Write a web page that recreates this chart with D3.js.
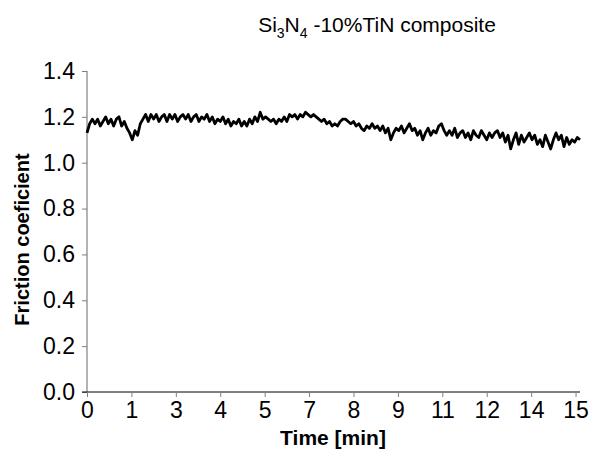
<!DOCTYPE html>
<html>
<head>
<meta charset="utf-8">
<script src="https://cdn.jsdelivr.net/npm/d3@7"></script>
<style>
  body { margin: 0; background: #fff; }
  text { font-family: Arial, "Liberation Sans", sans-serif; fill: #000; }
</style>
</head>
<body>
<svg id="chart" width="596" height="450"></svg>
<script>
// x axis is a category-style axis: evenly spaced ticks with these labels
const tickLabels = ['0', '1', '3', '4', '5', '7', '8', '9', '11', '12', '14', '15'];
const yTicks = [0, 0.2, 0.4, 0.6, 0.8, 1.0, 1.2, 1.4];

// friction coefficient, sampled every 0.06 tick-step along the x axis
const step = 0.06;
const friction = [
  1.13, 1.17, 1.19, 1.17, 1.19, 1.16, 1.18, 1.20, 1.17, 1.19, 1.16, 1.19, 1.20, 1.16, 1.18, 1.15, 1.13,
  1.10, 1.14, 1.12, 1.17, 1.19, 1.21, 1.18, 1.21, 1.19, 1.21, 1.18, 1.20, 1.21, 1.18, 1.21, 1.19, 1.21,
  1.18, 1.20, 1.21, 1.19, 1.21, 1.18, 1.20, 1.21, 1.18, 1.20, 1.19, 1.21, 1.18, 1.20, 1.17, 1.19, 1.18,
  1.20, 1.17, 1.19, 1.16, 1.18, 1.17, 1.19, 1.16, 1.18, 1.16, 1.19, 1.17, 1.20, 1.18, 1.22, 1.19, 1.20,
  1.19, 1.18, 1.19, 1.17, 1.19, 1.18, 1.20, 1.18, 1.21, 1.20, 1.21, 1.19, 1.21, 1.20, 1.22, 1.21, 1.20,
  1.21, 1.20, 1.19, 1.18, 1.19, 1.17, 1.18, 1.16, 1.17, 1.16, 1.18, 1.19, 1.19, 1.18, 1.17, 1.18, 1.16,
  1.17, 1.15, 1.14, 1.16, 1.15, 1.17, 1.15, 1.16, 1.14, 1.16, 1.13, 1.15, 1.10, 1.13, 1.15, 1.14, 1.16,
  1.13, 1.15, 1.17, 1.14, 1.15, 1.12, 1.14, 1.10, 1.13, 1.15, 1.12, 1.14, 1.13, 1.16, 1.17, 1.14, 1.12,
  1.14, 1.12, 1.15, 1.11, 1.13, 1.14, 1.11, 1.13, 1.10, 1.14, 1.12, 1.11, 1.14, 1.12, 1.10, 1.13, 1.11,
  1.13, 1.14, 1.11, 1.13, 1.09, 1.12, 1.06, 1.10, 1.13, 1.08, 1.12, 1.09, 1.11, 1.13, 1.10, 1.12, 1.08,
  1.10, 1.07, 1.12, 1.09, 1.06, 1.10, 1.13, 1.10, 1.12, 1.07, 1.11, 1.08, 1.10, 1.09, 1.11, 1.10
];

const svg = d3.select('#chart');
const plotLeft = 87, plotRight = 580, plotTop = 71, plotBottom = 392;

const x = d3.scaleLinear().domain([0, 11.1]).range([plotLeft, plotRight]);
const y = d3.scaleLinear().domain([0, 1.4]).range([plotBottom, plotTop]);

// y axis
const yAxis = svg.append('g')
  .attr('transform', `translate(${plotLeft},0)`)
  .call(d3.axisLeft(y).tickValues(yTicks).tickFormat(d3.format('.1f')).tickSize(5).tickPadding(7));
yAxis.select('.domain').attr('d', `M0,${plotTop}V${plotBottom}`).attr('stroke', '#808080').attr('stroke-width', 1.2);
yAxis.selectAll('.tick line').attr('stroke', '#808080');
yAxis.selectAll('text').style('font-size', '23px');

// x axis
const xAxis = svg.append('g')
  .attr('transform', `translate(0,${plotBottom})`)
  .call(d3.axisBottom(x).tickValues(d3.range(tickLabels.length)).tickFormat(i => tickLabels[i]).tickSize(5).tickPadding(5));
xAxis.select('.domain').attr('d', `M${plotLeft - 5},0H${plotRight}`).attr('stroke', '#000').attr('stroke-width', 1);
xAxis.selectAll('.tick line').attr('stroke', '#808080');
xAxis.selectAll('text').style('font-size', '23px');

// the curve
const line = d3.line().x((d, i) => x(i * step)).y(d => y(d));
svg.append('path')
  .datum(friction)
  .attr('fill', 'none')
  .attr('stroke', '#000')
  .attr('stroke-width', 2.8)
  .attr('stroke-linejoin', 'round')
  .attr('d', line);

// title with subscripts
const title = svg.append('text')
  .attr('x', 377).attr('y', 32)
  .attr('text-anchor', 'middle')
  .style('font-size', '21px');
title.append('tspan').text('Si');
title.append('tspan').text('3').attr('dy', 6).style('font-size', '14px');
title.append('tspan').text('N').attr('dy', -6);
title.append('tspan').text('4').attr('dy', 6).style('font-size', '14px');
title.append('tspan').text(' -10%TiN composite').attr('dy', -6);

// axis titles
svg.append('text')
  .attr('x', 333).attr('y', 445)
  .attr('text-anchor', 'middle')
  .style('font-size', '21px').style('font-weight', 'bold')
  .text('Time [min]');

svg.append('text')
  .attr('transform', `translate(29,${(plotTop + plotBottom) / 2 + 8}) rotate(-90)`)
  .attr('text-anchor', 'middle')
  .style('font-size', '20px').style('font-weight', 'bold')
  .text('Friction coeficient');
</script>
</body>
</html>
